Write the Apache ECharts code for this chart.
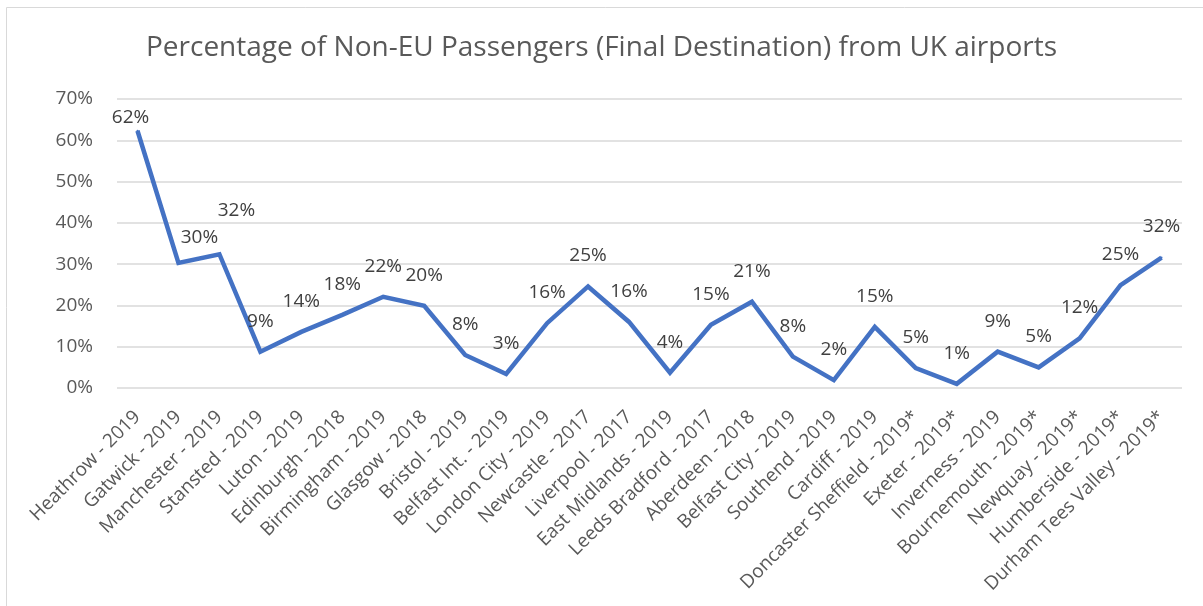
<!DOCTYPE html>
<html>
<head>
<meta charset="utf-8">
<script src="https://cdn.jsdelivr.net/npm/echarts@6/dist/echarts.min.js"></script>
<style>
  html, body { margin: 0; padding: 0; background: #fff; }
  #chart { width: 1203px; height: 606px; }
</style>
</head>
<body>
<div id="chart"></div>
<script>
// airports (year of data)
const airports = [
  'Heathrow - 2019', 'Gatwick - 2019', 'Manchester - 2019', 'Stansted - 2019',
  'Luton - 2019', 'Edinburgh - 2018', 'Birmingham - 2019', 'Glasgow - 2018',
  'Bristol - 2019', 'Belfast Int. - 2019', 'London City - 2019', 'Newcastle - 2017',
  'Liverpool - 2017', 'East Midlands - 2019', 'Leeds Bradford - 2017', 'Aberdeen - 2018',
  'Belfast City - 2019', 'Southend - 2019', 'Cardiff - 2019', 'Doncaster Sheffield - 2019*',
  'Exeter - 2019*', 'Inverness - 2019', 'Bournemouth - 2019*', 'Newquay - 2019*',
  'Humberside - 2019*', 'Durham Tees Valley - 2019*'
]
// share of non-EU passengers
const nonEuShare = [
  0.623, 0.303, 0.324, 0.088, 0.136, 0.177, 0.221, 0.199,
  0.080, 0.034, 0.157, 0.246, 0.160, 0.037, 0.153, 0.209,
  0.076, 0.019, 0.148, 0.048, 0.010, 0.088, 0.050, 0.120,
  0.249, 0.316
]
const yTicks = [0, 0.1, 0.2, 0.3, 0.4, 0.5, 0.6, 0.7]

const grey = '#595959'
const blue = '#4472C4'
const font = 'Open Sans'

// a few labels were dragged by hand in the original
const labelNudge = { 0: [-7, 17], 1: [21, 5], 2: [17, -13] }

const points = nonEuShare.map((v, i) => {
  const item = { value: v }
  if (labelNudge[i]) item.label = { offset: labelNudge[i] }
  return item
})

const chart = echarts.init(document.getElementById('chart'))
chart.setOption({
  animation: false,
  textStyle: { fontFamily: font },
  title: {
    text: 'Percentage of Non-EU Passengers (Final Destination) from UK airports',
    left: 'center',
    top: 29,
    textStyle: { fontFamily: font, fontSize: 28, fontWeight: 'normal', color: grey }
  },
  graphic: [{
    type: 'rect',
    shape: { x: 6.5, y: 7.5, width: 1210, height: 610 },
    style: { fill: 'none', stroke: '#d9d9d9', lineWidth: 1 },
    silent: true
  }],
  grid: { left: 117, right: 21, top: 99, bottom: 218 },
  xAxis: {
    type: 'category',
    data: airports,
    boundaryGap: true,
    axisLine: { show: false },
    axisTick: { show: false },
    axisLabel: { rotate: 45, interval: 0, color: grey, fontSize: 19, margin: 26 }
  },
  yAxis: {
    type: 'value',
    min: yTicks[0],
    max: yTicks[yTicks.length - 1],
    interval: 0.1,
    axisLine: { show: false },
    axisTick: { show: false },
    axisLabel: {
      color: grey, fontSize: 19, margin: 24,
      formatter: v => Math.round(v * 100) + '%'
    },
    splitLine: { lineStyle: { color: '#d9d9d9', width: 1.5 } }
  },
  series: [{
    type: 'line',
    data: points,
    symbol: 'circle',
    symbolSize: 2,
    showSymbol: true,
    itemStyle: { color: blue },
    lineStyle: { color: blue, width: 4.5, join: 'miter' },
    label: {
      show: true,
      position: 'top',
      distance: 20,
      color: '#404040',
      fontSize: 19,
      formatter: p => Math.round(p.value * 100) + '%'
    }
  }]
})
</script>
</body>
</html>
